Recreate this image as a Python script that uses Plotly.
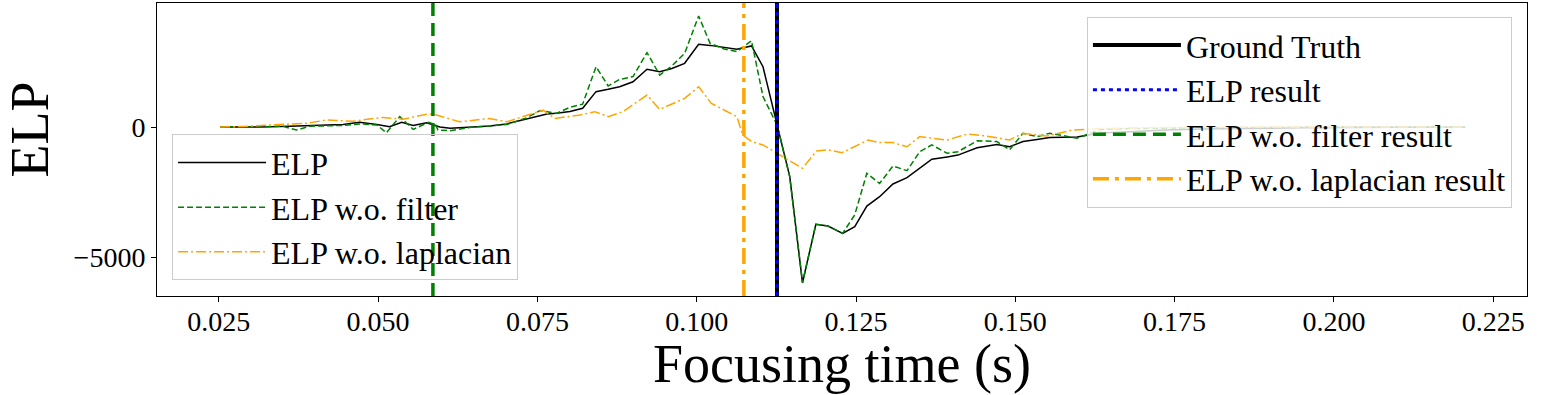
import plotly.graph_objects as go

# ELP curves (focusing time in s, ELP value)
elp_t = [0.0252, 0.0314, 0.0361, 0.0424, 0.0445, 0.0471, 0.0498, 0.0518, 0.0537, 0.0555,
         0.0576, 0.0597, 0.0613, 0.0649, 0.0675, 0.0702, 0.0733, 0.0765, 0.0780, 0.0801,
         0.0821, 0.0842, 0.0861, 0.0879, 0.0900, 0.0922, 0.0942, 0.0961, 0.0981, 0.1003,
         0.1021, 0.1043, 0.1063, 0.1086, 0.1104, 0.1126, 0.1146, 0.1166, 0.1187, 0.1206,
         0.1229, 0.1248, 0.1267, 0.1287, 0.1308, 0.1330, 0.1350, 0.1369, 0.1393, 0.1410,
         0.1440, 0.1471, 0.1491, 0.1512, 0.1534, 0.1554, 0.1597, 0.1633, 0.1680, 0.1727,
         0.1790, 0.1868, 0.1947, 0.2025, 0.2104, 0.2206]
elp_v = [0, 0, 30, 70, 100, 180, 100, 10, 180, 60,
         165, 0, -50, 0, 40, 120, 300, 500, 525, 600,
         720, 1360, 1450, 1550, 1740, 2220, 2130, 2250, 2450, 3180,
         3140, 3060, 2990, 3120, 2320, 100, -1910, -5990, -3740, -3810,
         -4090, -3830, -3040, -2680, -2190, -1950, -1600, -1240, -1150, -1080,
         -800, -670, -760, -560, -480, -400, -380, -230, -180, -120,
         -80, -50, -30, -20, -10, 0]

nofilter_t = [0.0252, 0.0314, 0.0350, 0.0372, 0.0393, 0.0445, 0.0471, 0.0498, 0.0513, 0.0534,
              0.0555, 0.0579, 0.0590, 0.0594, 0.0613, 0.0649, 0.0675, 0.0702, 0.0733, 0.0754,
              0.0780, 0.0801, 0.0821, 0.0842, 0.0861, 0.0879, 0.0900, 0.0922, 0.0942, 0.0961,
              0.0981, 0.1003, 0.1021, 0.1043, 0.1063, 0.1086, 0.1104, 0.1126, 0.1146, 0.1166,
              0.1187, 0.1206, 0.1229, 0.1248, 0.1267, 0.1287, 0.1308, 0.1330, 0.1350, 0.1369,
              0.1393, 0.1410, 0.1440, 0.1471, 0.1491, 0.1512, 0.1534, 0.1554, 0.1597, 0.1633,
              0.1680, 0.1727, 0.1790, 0.1868, 0.1947, 0.2025, 0.2104, 0.2206]
nofilter_v = [0, 0, 30, -115, 30, 60, 120, 80, -220, 400,
              -90, 180, 100, -115, -140, 0, 40, 100, 350, 630,
              525, 760, 880, 2320, 1580, 1830, 1940, 2860, 2000, 2350,
              2830, 4270, 3220, 3000, 2900, 3320, 1170, 80, -1910, -5990,
              -3740, -3810, -4090, -3380, -1780, -2170, -1500, -1680, -950, -690,
              -1010, -950, -530, -560, -880, -240, -370, -240, -430, -100,
              -60, -40, -30, -20, 0, 10, 0, 0]

nolap_t = [0.0252, 0.0290, 0.0330, 0.0388, 0.0419, 0.0460, 0.0507, 0.0539, 0.0576, 0.0587,
           0.0597, 0.0628, 0.0675, 0.0702, 0.0759, 0.0777, 0.0817, 0.0840, 0.0861, 0.0884,
           0.0922, 0.0942, 0.0981, 0.1003, 0.1023, 0.1063, 0.1072, 0.1086, 0.1104, 0.1126,
           0.1166, 0.1188, 0.1206, 0.1228, 0.1269, 0.1287, 0.1308, 0.1330, 0.1350, 0.1369,
           0.1393, 0.1425, 0.1455, 0.1491, 0.1512, 0.1549, 0.1590, 0.1633, 0.1727, 0.1868,
           0.2025, 0.2206]
nolap_v = [0, 20, 80, 140, 270, 220, 370, 300, 490, 490,
           420, 200, 330, 200, 650, 330, 460, 590, 400, 590,
           1230, 680, 1100, 1550, 910, 400, -300, -560, -690, -1010,
           -1590, -920, -880, -990, -500, -600, -600, -760, -370, -430,
           -500, -270, -350, -500, -240, -350, -115, -60, -20, 0,
           10, 0]

# vertical result markers (focusing time picked by each method)
gt_time = 0.1126
elp_time = 0.1126
nofilter_time = 0.0586
nolap_time = 0.1074

x_ticks = [0.025, 0.050, 0.075, 0.100, 0.125, 0.150, 0.175, 0.200, 0.225]
y_ticks = [-5000, 0]
y_tick_text = ["\u22125000", "0"]

FONT = "Liberation Serif"

fig = go.Figure()

curves = [
    (elp_t, elp_v, "ELP", "black", "solid"),
    (nofilter_t, nofilter_v, "ELP w.o. filter", "green", "6px,3px"),
    (nolap_t, nolap_v, "ELP w.o. laplacian", "orange", "10px,3px,2px,3px"),
]
for t, v, name, color, dash in curves:
    fig.add_trace(go.Scatter(
        x=t, y=v, mode="lines", name=name, legend="legend", legendgroup=name,
        line=dict(color=color, width=1.5, dash=dash),
    ))

markers = [
    (gt_time, "Ground Truth", "black", "solid", 4),
    (elp_time, "ELP result", "blue", "4px,4px", 3),
    (nofilter_time, "ELP w.o. filter result", "green", "13px,7px", 3.5),
    (nolap_time, "ELP w.o. laplacian result", "orange", "16px,6px,4px,6px", 3.5),
]
for xv, name, color, dash, width in markers:
    fig.add_shape(
        type="line", x0=xv, x1=xv, xref="x", y0=0, y1=1, yref="y domain",
        line=dict(color=color, width=width, dash=dash),
        showlegend=True, legend="legend2", legendgroup=name, name=name,
    )

# axis titles placed as annotations so they sit where the reference has them
fig.add_annotation(
    text="Focusing time (s)", xref="paper", yref="paper", x=0.5, y=-0.232,
    xanchor="center", yanchor="middle", showarrow=False,
    font=dict(family=FONT, size=54, color="black"),
)
fig.add_annotation(
    text="ELP", xref="paper", yref="paper", x=-0.093, y=0.567, textangle=-90,
    xanchor="center", yanchor="middle", showarrow=False,
    font=dict(family=FONT, size=54, color="black"),
)

fig.update_layout(
    width=1545, height=395,
    margin=dict(l=157, r=18, t=3, b=99),
    plot_bgcolor="white", paper_bgcolor="white",
    font=dict(family=FONT, color="black"),
    legend=dict(
        x=0.011, y=0.552, xanchor="left", yanchor="top",
        bgcolor="rgba(255,255,255,0)", bordercolor="#cccccc", borderwidth=1,
        font=dict(family=FONT, size=32), itemwidth=88, tracegroupgap=0,
    ),
    legend2=dict(
        x=0.989, y=0.953, xanchor="right", yanchor="top",
        bgcolor="rgba(255,255,255,0.8)", bordercolor="#cccccc", borderwidth=1,
        font=dict(family=FONT, size=32), itemwidth=88, tracegroupgap=0,
    ),
)

fig.update_xaxes(
    range=[0.0153, 0.2303], tickvals=x_ticks, tickformat=".3f", automargin=False,
    showline=True, mirror=True, linecolor="black", linewidth=1,
    ticks="outside", ticklen=5, tickcolor="black", showgrid=False, zeroline=False,
    tickfont=dict(family=FONT, size=28), ticklabelstandoff=-5,
)
fig.update_yaxes(
    range=[-6500, 4770], tickvals=y_ticks, ticktext=y_tick_text, automargin=False,
    showline=True, mirror=True, linecolor="black", linewidth=1,
    ticks="outside", ticklen=5, tickcolor="black", showgrid=False, zeroline=False,
    tickfont=dict(family=FONT, size=28),
)

# the page body has a default 8px margin; drop it so the figure fills the window
fig.write_html(
    "out.html",
    config={"displayModeBar": False},
    post_script="document.body.style.margin='0px';",
)
